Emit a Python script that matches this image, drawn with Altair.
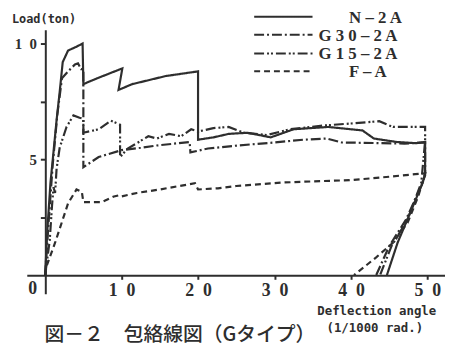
import altair as alt
import pandas as pd

# ---------------- data ----------------
SERIES = ["N-2A", "G30-2A", "G15-2A", "F-A"]
LEGEND_LABELS = ["N – 2 A", "G 3 0 – 2 A", "G 1 5 – 2 A", "F – A"]

N2A_X = [0, 0.3, 0.7, 1.0, 1.5, 1.9, 2.3, 3.0, 4.0, 4.9, 5.0, 6.8, 10.1, 9.6, 11.4, 15.8, 20.0, 20.0,
         22.0, 24.0, 26.5, 29.5, 32.5, 37.0, 41.5, 43.0, 46.0, 48.5, 49.7, 49.7, 49.4, 47.5, 46.1, 44.7]
N2A_Y = [0, 2.0, 4.0, 5.0, 6.7, 7.9, 9.2, 9.7, 9.85, 10.0, 8.25, 8.5, 8.93, 8.0, 8.25, 8.6, 8.8, 5.85,
         5.95, 6.1, 6.15, 5.95, 6.3, 6.4, 6.25, 5.9, 5.75, 5.7, 5.75, 4.4, 4.0, 2.5, 1.4, 0]

G30_X = [0, 0.5, 1.0, 1.6, 2.2, 3.0, 3.9, 4.3, 4.7, 5.0, 5.0, 7.0, 10.0, 12.5, 14.6, 18.9, 19.0,
         21.3, 25.2, 30.0, 33.8, 36.8, 38.8, 44.0, 47.0, 49.7, 49.7, 49.1, 47.2, 45.0, 43.3]
G30_Y = [0, 2.5, 4.8, 6.95, 8.5, 8.8, 9.1, 9.15, 8.9, 8.9, 4.66, 5.1, 5.4, 5.5, 5.6, 5.75, 5.3,
         5.47, 5.6, 5.73, 5.85, 5.9, 5.73, 5.7, 5.68, 5.73, 4.3, 3.8, 2.4, 1.25, 0]

G15_X = [0, 0.6, 0.9, 1.1, 1.3, 1.5, 1.9, 2.8, 3.7, 4.5, 5.0, 5.0, 7.0, 8.6, 9.8, 9.8, 10.8, 12.0,
         13.5, 14.6, 16.2, 17.8, 19.1, 20.0, 22.0, 24.0, 26.0, 29.0, 32.0, 36.0, 40.0, 43.7, 45.5,
         49.7, 49.7, 49.2, 47.4, 45.3, 43.8]
G15_Y = [0, 1.5, 3.0, 3.8, 3.55, 4.6, 5.5, 6.4, 6.9, 6.8, 6.75, 6.15, 6.3, 6.67, 6.5, 5.1, 5.47, 5.7,
         6.0, 5.9, 6.1, 6.0, 6.3, 6.2, 6.35, 6.4, 6.15, 6.05, 6.3, 6.45, 6.55, 6.65, 6.4,
         6.4, 5.8, 4.0, 2.4, 1.25, 0]

FA_X = [0, 0.2, 1.3, 3.0, 4.1, 4.8, 5.0, 7.4, 9.0, 9.7, 10.0, 12.0, 15.0, 19.6, 20.0, 22.6, 25.0,
        31.0, 35.0, 39.8, 45.0, 48.4, 49.7, 48.8, 47.4, 45.5, 43.3, 40.4]
FA_Y = [0, 0.4, 1.4, 3.1, 3.7, 3.6, 3.15, 3.15, 3.4, 3.45, 3.4, 3.55, 3.7, 3.97, 3.7, 3.75, 3.85,
        4.0, 4.05, 4.1, 4.25, 4.36, 4.4, 3.4, 2.26, 1.4, 0.77, 0]

X_TICKS = [10, 20, 30, 40, 50]
X_TICK_LABELS = ["1\u20020", "2\u20020", "3\u20020", "4\u20020", "5\u20020"]
Y_TICKS = [2.5, 5, 7.5, 10]
Y_TICK_LABELS = ["", "5", "", "1\u20020"]
ZERO_LABEL = ["0"]

Y_TITLE = ["Load(ton)"]
X_TITLE = ["Deflection angle", "(1/1000 rad.)"]
CAPTION = ["図－２　包絡線図（Gタイプ）"]

# ---------------- build table ----------------
rows = []
for name, xs, ys in [("N-2A", N2A_X, N2A_Y), ("G30-2A", G30_X, G30_Y),
                     ("G15-2A", G15_X, G15_Y), ("F-A", FA_X, FA_Y)]:
    for i, (a, b) in enumerate(zip(xs, ys)):
        rows.append({"series": name, "x": a, "y": b, "order": i})
df = pd.DataFrame(rows)

INK = "#2e2e2e"
DASHES = [[1, 0], [10, 3, 2, 3], [10, 3, 2, 2, 2, 3], [6, 4]]

X_DOMAIN = [-2.4, 52.3]
Y_DOMAIN = [-0.8, 10.6]
W, H = 423, 267
x_off = -(0 - X_DOMAIN[0]) * W / (X_DOMAIN[1] - X_DOMAIN[0])
y_off = -(0 - Y_DOMAIN[0]) * H / (Y_DOMAIN[1] - Y_DOMAIN[0])

x_expr = " : ".join(
    [f"datum.value == {v} ? '{l}'" for v, l in zip(X_TICKS, X_TICK_LABELS)]) + " : ''"
y_expr = " : ".join(
    [f"datum.value == {v} ? '{l}'" for v, l in zip(Y_TICKS, Y_TICK_LABELS)]) + " : ''"

lines = alt.Chart(df).mark_line(strokeWidth=2.2, color=INK, clip=False).encode(
    x=alt.X("x:Q", scale=alt.Scale(domain=X_DOMAIN, nice=False, zero=False),
            axis=alt.Axis(values=X_TICKS, labelExpr=x_expr, title=None, grid=False,
                          offset=x_off, tickSize=4, labelPadding=2,
                          domainColor=INK, domainWidth=2, tickColor=INK, tickWidth=2,
                          labelFont="Liberation Serif", labelFontSize=18,
                          labelFontWeight="bold", labelColor=INK)),
    y=alt.Y("y:Q", scale=alt.Scale(domain=Y_DOMAIN, nice=False, zero=False),
            axis=alt.Axis(values=Y_TICKS, labelExpr=y_expr, title=None, grid=False,
                          offset=y_off, tickSize=5, labelPadding=4,
                          domainColor=INK, domainWidth=2, tickColor=INK, tickWidth=2,
                          labelFont="Liberation Serif", labelFontSize=15,
                          labelFontWeight="bold", labelColor=INK)),
    detail="series:N",
    order="order:Q",
    strokeDash=alt.StrokeDash("series:N", scale=alt.Scale(domain=SERIES, range=DASHES),
                              legend=None),
)

layers = [lines]

# legend (drawn manually, like the original)
leg_y = [-13, 5, 24, 42]
leg_label_x = [326, 295, 295, 326]
for i in range(4):
    layers.append(
        alt.Chart(pd.DataFrame({"s": [SERIES[i]]})).mark_rule(
            strokeWidth=2, color=INK, strokeDash=DASHES[i]).encode(
            x=alt.value(230), x2=alt.value(289), y=alt.value(leg_y[i]))
    )
    layers.append(
        alt.Chart(pd.DataFrame({"t": [LEGEND_LABELS[i]]})).mark_text(
            align="left", baseline="middle", font="Liberation Serif", fontSize=17,
            fontWeight="bold", color=INK).encode(
            x=alt.value(leg_label_x[i]), y=alt.value(leg_y[i] + 1), text="t:N")
    )

def txt(values, x, y, **kw):
    return alt.Chart(pd.DataFrame({"t": values})).mark_text(color=INK, **kw).encode(
        x=alt.value(x), y=alt.value(y), text="t:N")

layers.append(txt(ZERO_LABEL, 6, 262, align="center", baseline="middle",
                  font="Liberation Serif", fontSize=18, fontWeight="bold"))
layers.append(txt(Y_TITLE, -15, -7, align="left", baseline="alphabetic",
                  font="DejaVu Sans Mono", fontSize=12, fontWeight="bold"))
layers.append(txt([X_TITLE[0]], 354, 289, align="center", baseline="alphabetic",
                  font="DejaVu Sans Mono", fontSize=12.5, fontWeight="bold"))
layers.append(txt([X_TITLE[1]], 352, 306, align="center", baseline="alphabetic",
                  font="DejaVu Sans Mono", fontSize=12.5, fontWeight="bold"))
layers.append(txt(CAPTION, 18, 315, align="left", baseline="alphabetic",
                  font="Noto Sans CJK JP", fontSize=20, fontWeight=500))

chart = alt.layer(*layers).properties(
    width=W, height=H,
    autosize=alt.AutoSizeParams(type="none"),
    padding={"left": 19, "top": 20, "right": 0, "bottom": 53},
    background="white",
).configure_view(stroke=None)

chart.save("out.html", embed_options={"renderer": "svg", "actions": False})
